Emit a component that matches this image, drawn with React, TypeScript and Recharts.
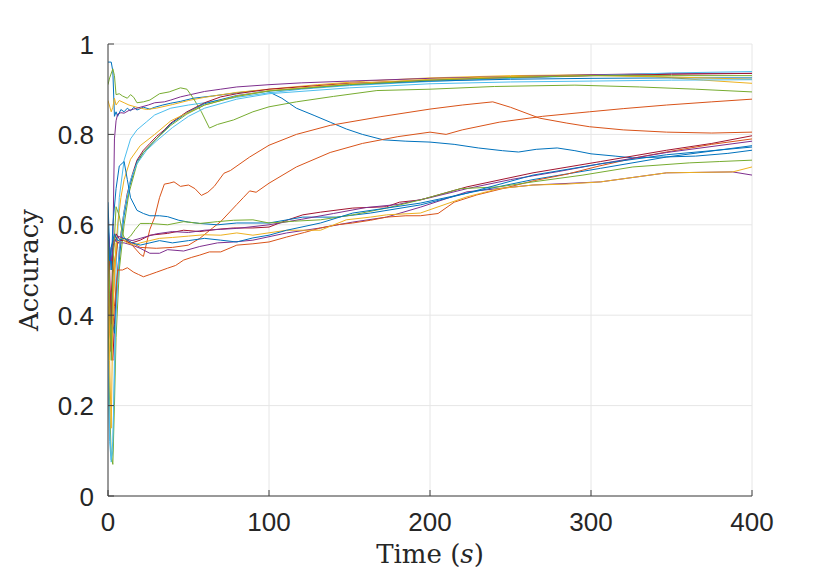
import { LineChart, Line, XAxis, YAxis, CartesianGrid, Label } from 'recharts';

// MATLAB default colour order
const BLUE = '#0072BD';
const ORANGE = '#D95319';
const YELLOW = '#EDB120';
const PURPLE = '#7E2F8E';
const GREEN = '#77AC30';
const CYAN = '#4DBEEE';
const RED = '#A2142F';

const xTicks = [0, 100, 200, 300, 400];
const yTicks = [0, 0.2, 0.4, 0.6, 0.8, 1];

// [time (s), accuracy]
const blueFall: [number, number][] = [
  [0, 0.96], [2, 0.96], [3, 0.94], [4, 0.84], [5, 0.85], [6, 0.84], [8, 0.855], [10, 0.85], [12, 0.858],
  [14, 0.852], [16, 0.86], [18, 0.854], [22, 0.86], [26, 0.856], [29, 0.86], [34, 0.865], [39, 0.869],
  [45, 0.873], [53, 0.88], [65, 0.885], [80, 0.892], [92, 0.897], [100, 0.894], [108, 0.88], [117, 0.858],
  [128, 0.842], [138, 0.827], [148, 0.812], [158, 0.8], [171, 0.788], [185, 0.785], [200, 0.783],
  [215, 0.778], [230, 0.77], [245, 0.764], [255, 0.761], [266, 0.767], [279, 0.77], [290, 0.764],
  [300, 0.757], [315, 0.752], [326, 0.748], [345, 0.75], [365, 0.752], [385, 0.758], [400, 0.765],
];
const greenDip: [number, number][] = [
  [0, 0.91], [1, 0.925], [3, 0.945], [4, 0.93], [5, 0.888], [7, 0.89], [9, 0.885], [12, 0.88], [14, 0.888],
  [16, 0.882], [18, 0.87], [22, 0.872], [26, 0.876], [32, 0.89], [38, 0.894], [45, 0.903], [49, 0.9],
  [53, 0.88], [58, 0.85], [63, 0.814], [68, 0.822], [78, 0.832], [90, 0.85], [100, 0.861], [117, 0.872],
  [140, 0.884], [167, 0.897], [200, 0.9], [240, 0.906], [290, 0.909], [330, 0.905], [365, 0.9], [400, 0.894],
];
const yellowHigh: [number, number][] = [
  [0, 0.875], [2, 0.85], [3, 0.86], [4, 0.88], [5, 0.865], [7, 0.875], [10, 0.87], [13, 0.865], [18, 0.86],
  [24, 0.855], [30, 0.858], [40, 0.866], [50, 0.875], [60, 0.882], [80, 0.893], [100, 0.9], [130, 0.91],
  [160, 0.918], [200, 0.925], [250, 0.93], [300, 0.932], [340, 0.928], [370, 0.92], [400, 0.913],
];
const purpleTop: [number, number][] = [
  [0, 0.55], [1, 0.45], [2, 0.32], [3, 0.55], [4, 0.79], [5, 0.83], [6, 0.845], [8, 0.848], [10, 0.847],
  [13, 0.853], [16, 0.856], [20, 0.86], [25, 0.865], [29, 0.87], [35, 0.872], [39, 0.876], [45, 0.883],
  [50, 0.887], [60, 0.895], [70, 0.9], [80, 0.905], [100, 0.91], [120, 0.914], [150, 0.918], [200, 0.924],
  [250, 0.928], [300, 0.932], [350, 0.935], [400, 0.935],
];
const cyanTop: [number, number][] = [
  [0, 0.25], [1, 0.12], [2, 0.075], [3, 0.1], [4, 0.3], [5, 0.5], [7, 0.66], [10, 0.743], [14, 0.79],
  [18, 0.81], [24, 0.828], [29, 0.843], [39, 0.858], [50, 0.865], [60, 0.87], [80, 0.882], [100, 0.892],
  [120, 0.9], [150, 0.908], [200, 0.917], [250, 0.924], [300, 0.93], [350, 0.936], [400, 0.939],
];
const yellowRise: [number, number][] = [
  [0, 0.45], [1, 0.38], [2, 0.34], [3, 0.4], [4, 0.5], [6, 0.6], [8, 0.66], [10, 0.7], [14, 0.745],
  [20, 0.775], [29, 0.8], [39, 0.83], [49, 0.847], [60, 0.865], [80, 0.885], [100, 0.897], [150, 0.912],
  [200, 0.922], [250, 0.928], [300, 0.93], [350, 0.927], [400, 0.922],
];
const redRise: [number, number][] = [
  [0, 0.5], [1, 0.38], [2, 0.32], [3, 0.3], [4, 0.38], [6, 0.5], [8, 0.58], [10, 0.63], [12, 0.67],
  [15, 0.71], [18, 0.743], [22, 0.765], [26, 0.78], [30, 0.795], [35, 0.81], [39, 0.825], [49, 0.85],
  [60, 0.87], [70, 0.883], [80, 0.89], [100, 0.9], [150, 0.913], [200, 0.92], [250, 0.926], [300, 0.93],
  [350, 0.933], [400, 0.935],
];
const greenRise: [number, number][] = [
  [0, 0.42], [1, 0.2], [2, 0.09], [3, 0.07], [4, 0.2], [5, 0.35], [7, 0.5], [10, 0.6], [13, 0.67],
  [18, 0.735], [22, 0.76], [30, 0.79], [39, 0.82], [49, 0.845], [60, 0.865], [80, 0.884], [100, 0.896],
  [150, 0.91], [200, 0.92], [250, 0.926], [300, 0.93], [350, 0.93], [400, 0.93],
];
const blueRise: [number, number][] = [
  [0, 0.55], [1, 0.45], [2, 0.4], [4, 0.36], [6, 0.48], [8, 0.56], [10, 0.62], [13, 0.68], [18, 0.74],
  [22, 0.76], [30, 0.79], [39, 0.823], [49, 0.848], [60, 0.868], [80, 0.886], [100, 0.896], [150, 0.91],
  [200, 0.918], [250, 0.922], [300, 0.924], [350, 0.925], [400, 0.925],
];
const cyanRise: [number, number][] = [
  [0, 0.3], [1, 0.15], [2, 0.08], [3, 0.12], [5, 0.4], [7, 0.55], [10, 0.63], [14, 0.7], [18, 0.735],
  [24, 0.765], [30, 0.785], [40, 0.815], [50, 0.84], [60, 0.858], [80, 0.878], [100, 0.89], [150, 0.903],
  [200, 0.912], [250, 0.916], [300, 0.918], [350, 0.92], [400, 0.921],
];
const orangePeak: [number, number][] = [
  [0, 0.55], [1, 0.42], [2, 0.45], [4, 0.52], [6, 0.56], [10, 0.57], [15, 0.555], [20, 0.535], [22, 0.53],
  [26, 0.59], [29, 0.617], [32, 0.66], [35, 0.69], [38, 0.692], [41, 0.695], [45, 0.685], [50, 0.688],
  [54, 0.68], [58, 0.665], [62, 0.672], [66, 0.685], [72, 0.714], [76, 0.72], [88, 0.75], [100, 0.776],
  [117, 0.8], [138, 0.82], [169, 0.839], [200, 0.856], [220, 0.865], [239, 0.872], [250, 0.86],
  [268, 0.836], [285, 0.825], [299, 0.817], [320, 0.81], [347, 0.805], [375, 0.803], [400, 0.805],
];
const orangeClimb: [number, number][] = [
  [0, 0.45], [1, 0.36], [2, 0.33], [4, 0.5], [6, 0.56], [10, 0.57], [15, 0.56], [20, 0.55], [30, 0.548],
  [40, 0.55], [50, 0.555], [57, 0.57], [65, 0.593], [70, 0.607], [80, 0.645], [84, 0.66], [88, 0.675],
  [92, 0.672], [100, 0.692], [117, 0.728], [138, 0.76], [158, 0.78], [180, 0.795], [200, 0.805], [210, 0.8],
  [220, 0.81], [243, 0.827], [270, 0.84], [299, 0.85], [320, 0.857], [347, 0.865], [375, 0.872], [400, 0.878],
];
const orangeLow: [number, number][] = [
  [0, 0.55], [1, 0.4], [2, 0.32], [4, 0.42], [6, 0.5], [9, 0.5], [12, 0.505], [16, 0.495], [19, 0.49],
  [22, 0.485], [26, 0.49], [30, 0.495], [37, 0.504], [42, 0.51], [47, 0.522], [52, 0.528], [57, 0.533],
  [63, 0.54], [70, 0.54], [80, 0.555], [90, 0.558], [100, 0.562], [111, 0.573], [122, 0.583], [132, 0.593],
  [142, 0.6], [152, 0.604], [163, 0.61], [173, 0.617], [185, 0.62], [194, 0.62], [205, 0.625], [215, 0.65],
  [229, 0.666], [245, 0.68], [265, 0.698], [285, 0.712], [305, 0.73], [330, 0.75], [350, 0.763],
  [375, 0.778], [400, 0.79],
];
const redLow: [number, number][] = [
  [0, 0.62], [1, 0.5], [2, 0.38], [3, 0.55], [5, 0.58], [7.5, 0.566], [10, 0.565], [14, 0.559], [20, 0.566],
  [26, 0.577], [37, 0.581], [47, 0.588], [57, 0.585], [68, 0.59], [78, 0.593], [90, 0.593], [100, 0.595],
  [111, 0.61], [121, 0.622], [132, 0.628], [152, 0.637], [173, 0.64], [181, 0.65], [194, 0.655],
  [223, 0.684], [264, 0.715], [306, 0.74], [347, 0.765], [375, 0.78], [400, 0.797],
];
const greenLow: [number, number][] = [
  [0, 0.6], [1, 0.45], [2, 0.3], [3, 0.5], [5, 0.64], [7, 0.62], [9, 0.58], [11, 0.566], [14, 0.575],
  [17, 0.59], [20, 0.603], [26, 0.603], [37, 0.6], [47, 0.607], [57, 0.603], [68, 0.607], [78, 0.61],
  [90, 0.611], [100, 0.604], [116, 0.608], [132, 0.611], [152, 0.622], [173, 0.637], [194, 0.655],
  [219, 0.68], [243, 0.684], [264, 0.695], [295, 0.71], [326, 0.728], [361, 0.737], [380, 0.74], [400, 0.743],
];
const blueLowHigh: [number, number][] = [
  [0, 0.65], [1, 0.55], [2, 0.5], [3, 0.6], [5, 0.68], [7, 0.73], [10, 0.74], [12, 0.7], [14, 0.66],
  [18, 0.632], [22, 0.625], [26, 0.62], [32, 0.62], [37, 0.618], [44, 0.61], [50, 0.606], [57, 0.603],
  [68, 0.6], [80, 0.604], [100, 0.604], [121, 0.617], [142, 0.617], [163, 0.626], [194, 0.644],
  [223, 0.67], [264, 0.7], [306, 0.725], [347, 0.75], [400, 0.775],
];
const blueLow: [number, number][] = [
  [0, 0.6], [1, 0.52], [2, 0.55], [4, 0.58], [6, 0.565], [10, 0.57], [15, 0.56], [20, 0.555], [26, 0.56],
  [32, 0.565], [40, 0.56], [50, 0.565], [60, 0.57], [70, 0.566], [80, 0.562], [90, 0.571], [100, 0.577],
  [111, 0.588], [132, 0.604], [152, 0.626], [173, 0.637], [194, 0.648], [223, 0.67], [264, 0.71],
  [306, 0.735], [347, 0.755], [400, 0.772],
];
const yellowLow: [number, number][] = [
  [0, 0.55], [1, 0.3], [2, 0.15], [3, 0.4], [5, 0.56], [8, 0.57], [12, 0.56], [16, 0.555], [20, 0.56],
  [26, 0.565], [32, 0.57], [40, 0.572], [50, 0.575], [60, 0.578], [70, 0.577], [80, 0.582], [90, 0.577],
  [111, 0.588], [132, 0.588], [148, 0.611], [163, 0.617], [173, 0.622], [194, 0.626], [223, 0.662],
  [243, 0.68], [264, 0.688], [285, 0.69], [306, 0.695], [347, 0.715], [388, 0.717], [400, 0.728],
];
const purpleLow: [number, number][] = [
  [0, 0.58], [1, 0.5], [2, 0.55], [4, 0.57], [6, 0.56], [10, 0.56], [15, 0.555], [20, 0.548], [26, 0.537],
  [32, 0.537], [37, 0.545], [47, 0.542], [57, 0.552], [68, 0.56], [78, 0.562], [90, 0.566], [111, 0.582],
  [132, 0.593], [152, 0.606], [173, 0.617], [194, 0.639], [223, 0.673], [264, 0.688], [306, 0.695],
  [347, 0.715], [388, 0.717], [400, 0.71],
];
const purpleMid: [number, number][] = [
  [0, 0.6], [1, 0.55], [2, 0.52], [4, 0.56], [6, 0.575], [10, 0.57], [15, 0.565], [20, 0.57], [30, 0.58],
  [40, 0.585], [50, 0.583], [60, 0.588], [70, 0.59], [80, 0.592], [100, 0.6], [120, 0.612], [140, 0.625],
  [160, 0.638], [180, 0.645], [200, 0.66], [223, 0.68], [250, 0.7], [280, 0.718], [306, 0.735],
  [347, 0.76], [400, 0.785],
];

const runs: { name: string; color: string; points: [number, number][] }[] = [
  { name: 'blueFall', color: BLUE, points: blueFall },
  { name: 'orangePeak', color: ORANGE, points: orangePeak },
  { name: 'yellowHigh', color: YELLOW, points: yellowHigh },
  { name: 'purpleTop', color: PURPLE, points: purpleTop },
  { name: 'greenDip', color: GREEN, points: greenDip },
  { name: 'cyanTop', color: CYAN, points: cyanTop },
  { name: 'redRise', color: RED, points: redRise },
  { name: 'blueRise', color: BLUE, points: blueRise },
  { name: 'orangeClimb', color: ORANGE, points: orangeClimb },
  { name: 'yellowRise', color: YELLOW, points: yellowRise },
  { name: 'purpleLow', color: PURPLE, points: purpleLow },
  { name: 'greenRise', color: GREEN, points: greenRise },
  { name: 'cyanRise', color: CYAN, points: cyanRise },
  { name: 'redLow', color: RED, points: redLow },
  { name: 'blueLowHigh', color: BLUE, points: blueLowHigh },
  { name: 'orangeLow', color: ORANGE, points: orangeLow },
  { name: 'yellowLow', color: YELLOW, points: yellowLow },
  { name: 'purpleMid', color: PURPLE, points: purpleMid },
  { name: 'greenLow', color: GREEN, points: greenLow },
  { name: 'blueLow', color: BLUE, points: blueLow },
];

const AXIS = '#404040';
const TICK_FONT = '"Liberation Sans", Arial, sans-serif';
const LABEL_FONT = '"DejaVu Serif", "Liberation Serif", serif';

// MATLAB-style ticks: short marks pointing into the plot, labels outside
const XTick = ({ x, y, payload }: any) => (
  <g>
    <line x1={x} x2={x} y1={y} y2={y - 6} stroke={AXIS} />
    <text x={x} y={y + 35} textAnchor="middle" fontSize={26} fontFamily={TICK_FONT} fill="#262626">
      {payload.value}
    </text>
  </g>
);

const YTick = ({ x, y, payload }: any) => (
  <g>
    <line x1={x} x2={x + 6} y1={y} y2={y} stroke={AXIS} />
    <text x={x - 14} y={y + 9.5} textAnchor="end" fontSize={26} fontFamily={TICK_FONT} fill="#262626">
      {String(payload.value)}
    </text>
  </g>
);

export default function App() {
  return (
    <div style={{ position: 'absolute', left: 0, top: 0, width: 830, height: 580, background: '#fff' }}>
      <LineChart width={830} height={580} margin={{ top: 44, right: 78, bottom: 44, left: 48 }}>
        <CartesianGrid stroke="#e6e6e6" />
        <XAxis
          type="number"
          dataKey="t"
          domain={[0, 400]}
          ticks={xTicks}
          allowDataOverflow
          height={40}
          stroke={AXIS}
          tickLine={false}
          tickSize={0}
          tickMargin={0}
          tick={<XTick />}
        >
          <Label
            content={({ viewBox }: any) => (
              <text
                x={viewBox.x + viewBox.width / 2}
                y={viewBox.y + 67}
                textAnchor="middle"
                fontSize={26}
                fontFamily={LABEL_FONT}
                fill="#262626"
              >
                Time (<tspan fontStyle="italic">s</tspan>)
              </text>
            )}
          />
        </XAxis>
        <YAxis
          type="number"
          domain={[0, 1]}
          ticks={yTicks}
          allowDataOverflow
          width={60}
          stroke={AXIS}
          tickLine={false}
          tickSize={0}
          tickMargin={0}
          tick={<YTick />}
        >
          <Label
            content={({ viewBox }: any) => {
              const cx = 38;
              const cy = viewBox.y + viewBox.height / 2;
              return (
                <text
                  x={cx}
                  y={cy}
                  transform={`rotate(-90 ${cx} ${cy})`}
                  textAnchor="middle"
                  fontSize={26}
                  fontFamily={LABEL_FONT}
                  fill="#262626"
                >
                  Accuracy
                </text>
              );
            }}
          />
        </YAxis>
        {runs.map((r) => (
          <Line
            key={r.name}
            data={r.points.map(([t, v]) => ({ t, v }))}
            dataKey="v"
            type="linear"
            stroke={r.color}
            strokeWidth={1}
            dot={false}
            activeDot={false}
            isAnimationActive={false}
          />
        ))}
      </LineChart>
    </div>
  );
}
